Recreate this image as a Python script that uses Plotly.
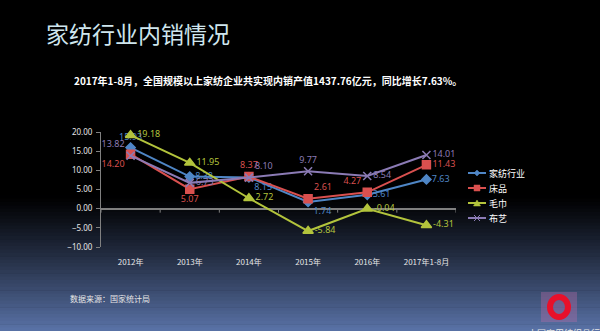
import plotly.graph_objects as go

categories = ["2012年", "2013年", "2014年", "2015年", "2016年", "2017年1-8月"]
jiafang = [15.93, 8.38, 8.15, 1.74, 3.61, 7.63]
chuangpin = [14.20, 5.07, 8.37, 2.61, 4.27, 11.43]
maojin = [19.18, 11.95, 2.72, -5.84, -0.04, -4.31]
buyi = [13.82, 6.73, 8.10, 9.77, 8.54, 14.01]
y_ticks = [-10, -5, 0, 5, 10, 15, 20]

W, H = 600, 331
L, R, T, B = 101, 456, 132, 247


def px(xp):
    return (xp - L) / (R - L)


def py(yp):
    return (B - yp) / (B - T)


series = [
    ("家纺行业", jiafang, "#4f86c6", "diamond", 7,
     ["top center", "middle right", "bottom right", "bottom right", "middle right", "middle right"]),
    ("床品", chuangpin, "#d9504f", "square", 8,
     ["bottom left", "bottom center", "top center", "top right", "top left", "middle right"]),
    ("毛巾", maojin, "#b3c43c", "triangle-up", 9,
     ["middle right", "middle right", "middle right", "middle right", "middle right", "middle right"]),
    ("布艺", buyi, "#8b7bb5", "x-thin-open", 8,
     ["top left", "middle right", "top right", "top center", "middle right", "middle right"]),
]

fig = go.Figure()
for name, vals, color, sym, size, pos in series:
    fig.add_trace(go.Scatter(
        x=categories, y=vals, name=name, mode="lines+markers+text",
        line=dict(color=color, width=2),
        marker=dict(symbol=sym, size=size, color=color, line=dict(color=color, width=1.5)),
        text=[f"{v:.2f}" for v in vals], textposition=pos,
        textfont=dict(color=color, size=9, family="Noto Sans"),
        cliponaxis=False, showlegend=False,
    ))

shapes = []
# background gradient
top_c = (0, 0, 0)
bot_c = (90, 115, 168)
start = 195
n = 40
for i in range(n):
    y0p = start + (H - start) * i / n
    y1p = start + (H - start) * (i + 1) / n
    f = ((i + 0.5) / n) ** 1.15
    c = tuple(int(top_c[k] + (bot_c[k] - top_c[k]) * f) for k in range(3))
    shapes.append(dict(type="rect", xref="paper", yref="paper",
                       x0=px(0), x1=px(W), y0=py(y1p + 0.5), y1=py(y0p),
                       fillcolor=f"rgb{c}", line=dict(width=0), layer="below"))
# tick marks on zero line at category boundaries
for k in range(len(categories) + 1):
    shapes.append(dict(type="line", xref="x", yref="y", x0=k - 0.5, x1=k - 0.5,
                       ysizemode="pixel", yanchor=0, y0=0, y1=-4,
                       line=dict(color="#808080", width=1)))
# logo
shapes.append(dict(type="rect", xref="paper", yref="paper",
                   x0=px(541), x1=px(577), y0=py(322), y1=py(292),
                   fillcolor="rgba(190,110,170,0.35)", line=dict(width=0)))
shapes.append(dict(type="circle", xref="paper", yref="paper",
                   x0=px(550), x1=px(568), y0=py(317), y1=py(297),
                   fillcolor="rgba(0,0,0,0)", line=dict(color="#e8102a", width=6)))

annotations = [
    dict(text="家纺行业内销情况", xref="paper", yref="paper", x=px(44), y=py(33),
         xanchor="left", yanchor="middle", showarrow=False,
         font=dict(size=23, color="#cfe6ee", family="Noto Sans CJK SC")),
    dict(text="<b>2017年1-8月，全国规模以上家纺企业共实现内销产值1437.76亿元，同比增长7.63%。</b>",
         xref="paper", yref="paper", x=px(72), y=py(80),
         xanchor="left", yanchor="middle", showarrow=False,
         font=dict(size=10, color="#ffffff", family="Noto Sans CJK SC")),
    dict(text="数据来源：国家统计局", xref="paper", yref="paper", x=px(68), y=py(298),
         xanchor="left", yanchor="middle", showarrow=False,
         font=dict(size=8, color="#e6e6e6", family="Noto Sans CJK SC")),
    dict(text="中国家用纺织品行业协会", xref="paper", yref="paper", x=px(526), y=py(333),
         xanchor="left", yanchor="middle", showarrow=False,
         font=dict(size=9, color="#e6e6e6", family="Noto Sans CJK SC")),
]

# manual legend (line sample + marker glyph + text)
for i, (name, vals, color, sym, size, pos) in enumerate(series):
    yc = 173 + 15 * i
    shapes.append(dict(type="line", xref="paper", yref="paper",
                       x0=px(468), x1=px(486), y0=py(yc), y1=py(yc),
                       line=dict(color=color, width=2)))
    cx, r = 477, 3
    if sym == "diamond":
        path = (f"M {px(cx - r)} {py(yc)} L {px(cx)} {py(yc - r)} "
                f"L {px(cx + r)} {py(yc)} L {px(cx)} {py(yc + r)} Z")
        shapes.append(dict(type="path", xref="paper", yref="paper", path=path,
                           fillcolor=color, line=dict(color=color, width=0.5)))
    elif sym == "square":
        shapes.append(dict(type="rect", xref="paper", yref="paper",
                           x0=px(cx - r), x1=px(cx + r), y0=py(yc + r), y1=py(yc - r),
                           fillcolor=color, line=dict(color=color, width=0.5)))
    elif sym == "triangle-up":
        path = (f"M {px(cx - r - 0.5)} {py(yc + r)} L {px(cx)} {py(yc - r)} "
                f"L {px(cx + r + 0.5)} {py(yc + r)} Z")
        shapes.append(dict(type="path", xref="paper", yref="paper", path=path,
                           fillcolor=color, line=dict(color=color, width=0.5)))
    else:
        for a, b in ((-1, 1), (1, -1)):
            shapes.append(dict(type="line", xref="paper", yref="paper",
                               x0=px(cx - r), x1=px(cx + r),
                               y0=py(yc + a * r), y1=py(yc + b * r),
                               line=dict(color=color, width=1)))
    annotations.append(dict(text=name, xref="paper", yref="paper", x=px(487), y=py(yc),
                            xanchor="left", yanchor="middle", showarrow=False,
                            font=dict(size=9, color="#ffffff", family="Noto Sans CJK SC")))

fig.update_layout(
    width=W, height=H,
    margin=dict(l=L, r=W - R, t=T, b=H - B, pad=0),
    paper_bgcolor="#000000", plot_bgcolor="rgba(0,0,0,0)",
    showlegend=False,
    shapes=shapes, annotations=annotations,
    xaxis=dict(type="category", categoryorder="array", categoryarray=categories,
               range=[-0.5, len(categories) - 0.5], showline=False, showgrid=False,
               zeroline=False, ticks="", ticklabelstandoff=9,
               tickfont=dict(size=8, color="#e6e6e6", family="Noto Sans CJK SC")),
    yaxis=dict(range=[-10, 20], tickvals=y_ticks, tickformat=".2f", showgrid=False,
               showline=True, linecolor="#808080", linewidth=1, ticks="outside",
               ticklen=4, tickcolor="#808080", zeroline=True, zerolinecolor="#808080",
               zerolinewidth=1.5, ticklabelstandoff=2,
               tickfont=dict(size=8, color="#e6e6e6", family="Noto Sans")),
)

fig.write_html("out.html")
